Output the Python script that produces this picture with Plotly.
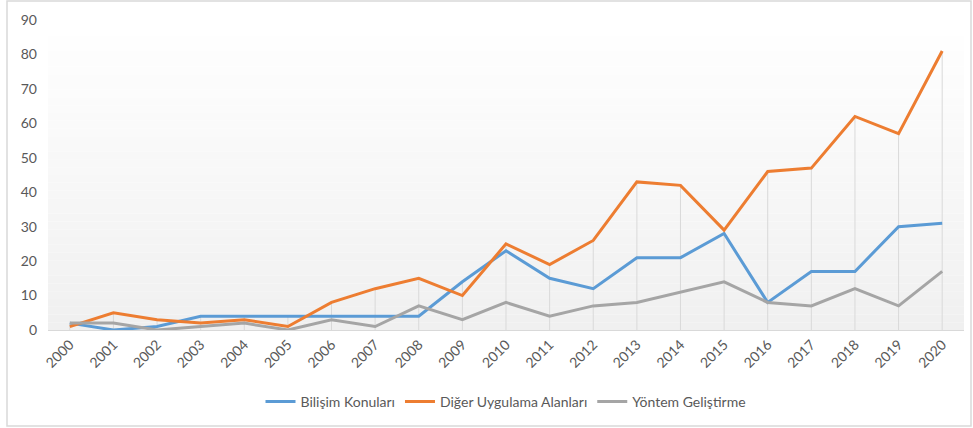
import plotly.graph_objects as go

years = [str(y) for y in range(2000, 2021)]
bilisim = [2, 0, 1, 4, 4, 4, 4, 4, 4, 14, 23, 15, 12, 21, 21, 28, 8, 17, 17, 30, 31]
diger = [1, 5, 3, 2, 3, 1, 8, 12, 15, 10, 25, 19, 26, 43, 42, 29, 46, 47, 62, 57, 81]
yontem = [2, 2, 0, 1, 2, 0, 3, 1, 7, 3, 8, 4, 7, 8, 11, 14, 8, 7, 12, 7, 17]
y_ticks = [0, 10, 20, 30, 40, 50, 60, 70, 80, 90]

FONT = "Lato, Liberation Sans, sans-serif"
TXT = "#595959"

fig = go.Figure()

# drop lines (from highest series value to axis)
dx, dy = [], []
for i, yr in enumerate(years):
    top = max(bilisim[i], diger[i], yontem[i])
    dx += [yr, yr, None]
    dy += [0, top, None]
fig.add_trace(go.Scatter(x=dx, y=dy, mode="lines", line=dict(color="#d9d9d9", width=1),
                         showlegend=False, hoverinfo="skip"))

series = [("Bilişim Konuları", bilisim, "#5B9BD5"),
          ("Diğer Uygulama Alanları", diger, "#ED7D31"),
          ("Yöntem Geliştirme", yontem, "#A5A5A5")]
for name, vals, col in series:
    fig.add_trace(go.Scatter(x=years, y=vals, mode="lines", name=name,
                             line=dict(color=col, width=3)))

# gradient background in plot area
shapes = []
n = 40
for k in range(n):
    t = k / (n - 1)
    c = int(round(255 - (255 - 240) * (1 - t)))
    shapes.append(dict(type="rect", xref="x domain", yref="y domain",
                       x0=0, x1=1, y0=k / n, y1=(k + 1) / n,
                       fillcolor=f"rgb({c},{c},{c})", line=dict(width=0), layer="below"))
# chart border
W, H = 973, 428
l, r, t_, b = 48, 9, 20, 98
pw, ph = W - l - r, H - t_ - b
def px(x): return (x - l) / pw
def py(y): return (H - b - y) / ph
shapes.append(dict(type="rect", xref="paper", yref="paper",
                   x0=px(7), x1=px(971), y0=py(426), y1=py(1),
                   line=dict(color="#d9d9d9", width=1.5), fillcolor="rgba(0,0,0,0)"))

fig.update_layout(
    width=W, height=H,
    margin=dict(l=l, r=r, t=t_, b=b),
    paper_bgcolor="white", plot_bgcolor="white",
    font=dict(family=FONT, size=14, color=TXT),
    shapes=shapes,
    showlegend=True,
    legend=dict(orientation="h", x=0.5, xanchor="center", y=py(402), yanchor="middle",
                font=dict(size=14, color=TXT), itemwidth=30, tracegroupgap=0),
    xaxis=dict(type="category", range=[-0.5, 20.5], showgrid=False, tickangle=-45,
               showline=True, linecolor="#d9d9d9", linewidth=1, ticks="",
               tickfont=dict(size=14, color=TXT), zeroline=False),
    yaxis=dict(range=[0, 90], tickvals=y_ticks, showgrid=False, zeroline=False,
               showline=False, ticks="", ticklabelstandoff=10,
               tickfont=dict(size=14, color=TXT)),
)

fig.write_html("out.html", config={"displayModeBar": False},
               post_script="document.body.style.margin='0';")
